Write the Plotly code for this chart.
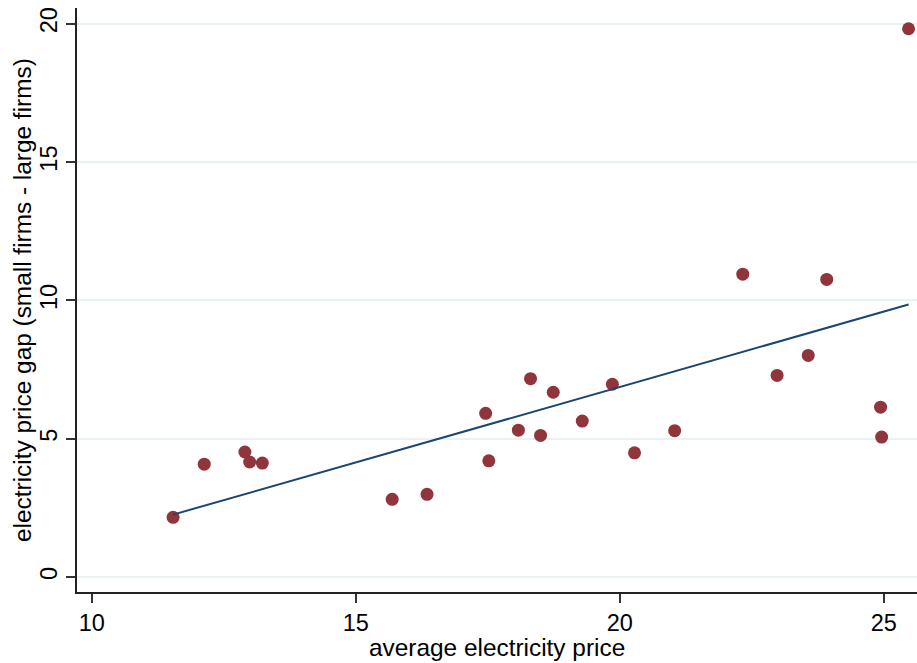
import numpy as np
import plotly.graph_objects as go

avg_price = [11.54, 12.13, 12.90, 12.99, 13.23, 15.69, 16.35, 17.46, 17.52, 18.08,
             18.31, 18.50, 18.74, 19.29, 19.86, 20.28, 21.04, 22.33, 22.98, 23.57,
             23.92, 24.94, 24.96, 25.47]
price_gap = [2.16, 4.08, 4.52, 4.16, 4.12, 2.81, 2.99, 5.92, 4.20, 5.31,
             7.17, 5.12, 6.68, 5.64, 6.97, 4.49, 5.29, 10.95, 7.29, 8.01,
             10.76, 6.14, 5.06, 19.82]

x_ticks = [10, 15, 20, 25]
y_ticks = [0, 5, 10, 15, 20]

x_title = "average electricity price"
y_title = "electricity price gap (small firms - large firms)"

# OLS fitted line
b, a = np.polyfit(avg_price, price_gap, 1)
fx = [min(avg_price), max(avg_price)]
fy = [a + b * v for v in fx]

fig = go.Figure()
fig.add_trace(go.Scatter(x=avg_price, y=price_gap, mode="markers",
                         marker=dict(color="#90353b", size=13, line=dict(width=0)),
                         showlegend=False))
fig.add_trace(go.Scatter(x=fx, y=fy, mode="lines",
                         line=dict(color="#1a476f", width=2),
                         showlegend=False))

font = "Liberation Sans, Arial, Helvetica, sans-serif"
title_font = dict(family=font, size=24.4, color="black")
fig.update_layout(
    width=917, height=663,
    margin=dict(l=77, r=0, t=8, b=71),
    paper_bgcolor="white", plot_bgcolor="white",
    font=dict(family=font, size=21, color="black"),
    xaxis=dict(range=[9.72, 25.63], tickvals=x_ticks, ticks="outside", ticklen=9,
               tickwidth=1.5, tickcolor="#333", showline=True, linecolor="#222",
               linewidth=1.5, showgrid=False, zeroline=False, automargin=False,
               tickfont=dict(family=font, size=23.5, color="black")),
    yaxis=dict(range=[-0.54, 20.57], tickvals=y_ticks, ticks="outside", ticklen=9,
               tickwidth=1.5, tickcolor="#333", showline=True, linecolor="#222",
               linewidth=1.5, showgrid=True, gridcolor="#eaf2f3", gridwidth=1.5,
               zeroline=False, tickangle=-90, automargin=False,
               tickfont=dict(family=font, size=23.5, color="black")),
    annotations=[
        dict(text=x_title, xref="paper", yref="paper", x=0.5, y=0, yshift=-55,
             xanchor="center", yanchor="middle", showarrow=False,
             font=title_font),
        dict(text=y_title, xref="paper", yref="paper", x=0, y=0.5, xshift=-55,
             xanchor="center", yanchor="middle", textangle=-90, showarrow=False,
             font=title_font),
    ],
)

fig.write_html("out.html", config={"displayModeBar": False},
               post_script="document.body.style.margin='0';document.body.style.overflow='hidden';")
